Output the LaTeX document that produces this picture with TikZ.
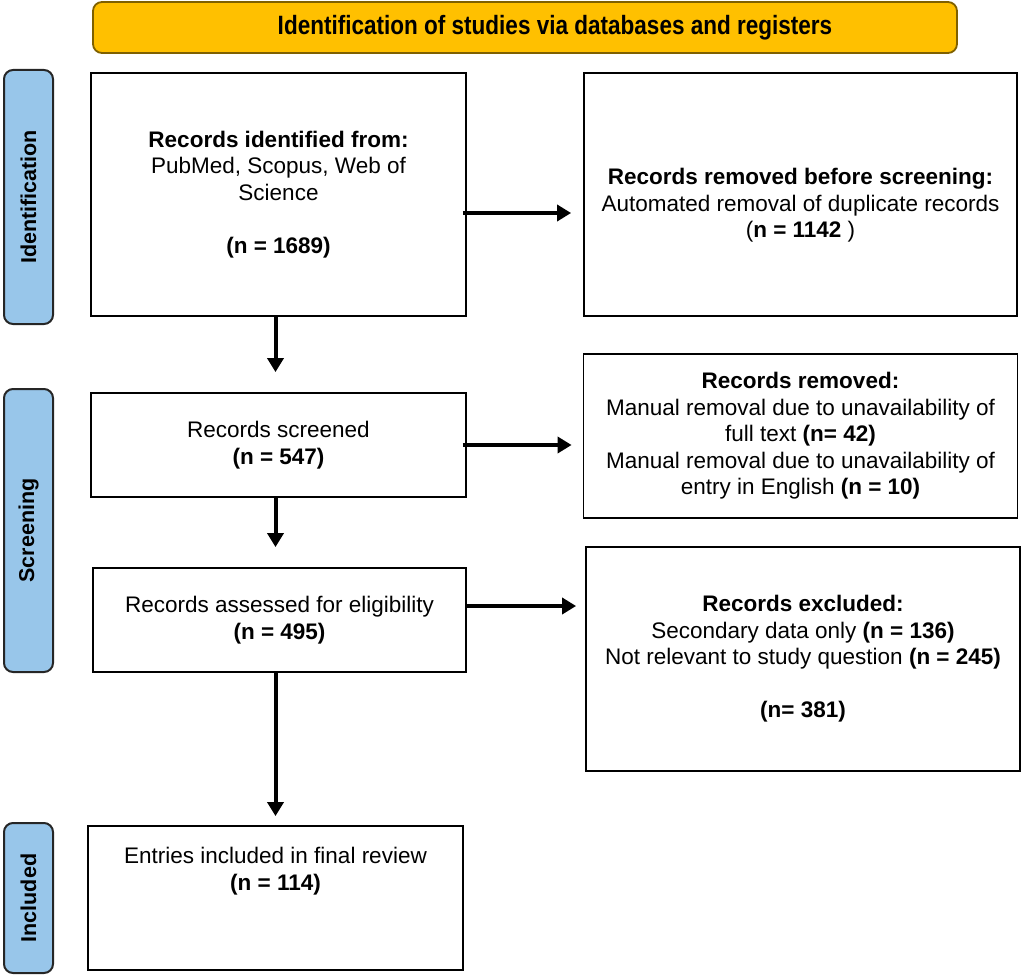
\documentclass[tikz,border=0pt]{standalone}
\usepackage{fontspec}
\setmainfont{Liberation Sans}
\newfontfamily\bannerfont[FakeStretch=0.85]{Liberation Sans}
\usetikzlibrary{arrows.meta}
\definecolor{bannergold}{RGB}{255,192,0}
\definecolor{bannerline}{RGB}{127,96,0}
\definecolor{phaseblue}{RGB}{152,198,234}

\begin{document}
\begin{tikzpicture}
        [%%%%%%%%%%%%%%%%%%%%%%%%%%%%%%
        x=1pt, y=-1pt,
        box/.style={rectangle, draw=black, line width=1.8pt, align=center,
          font=\fontsize{22.5}{26.5}\selectfont},
        phase/.style={rectangle, rounded corners=9pt, draw=black!85, line width=2pt,
          fill=phaseblue, minimum width=49pt, align=center,
          font=\fontsize{21.5}{25}\selectfont\bfseries},
        banner/.style={rectangle, rounded corners=9pt, draw=bannerline, line width=1.8pt,
          fill=bannergold, minimum width=864pt, minimum height=51pt},
        arr/.style={line width=4pt, -{Triangle[length=14pt,width=16pt]}},
        ]%%%%%%%%%%%%%%%%%%%%%%%%%%%%%%
        \useasboundingbox (0,0) rectangle (1024,976);
        % Title
        \node[banner] (title) at (525,27.5) {};
        \node[font=\bannerfont\bfseries\fontsize{26.5}{30}\selectfont] (titletxt) at ([xshift=30pt]title.center)
          {Identification of studies via databases and registers};
        % Phases
        \node[phase, minimum height=254pt] (ident) at (28.5,197) {};
        \node[rotate=90, font=\fontsize{21.5}{25}\selectfont\bfseries] at (ident) {Identification};
        \node[phase, minimum height=283pt] (screen) at (28.5,530.5) {};
        \node[rotate=90, font=\fontsize{21.5}{25}\selectfont\bfseries] at (screen) {Screening};
        \node[phase, minimum height=150pt] (incl) at (28.5,898) {};
        \node[rotate=90, font=\fontsize{21.5}{25}\selectfont\bfseries] at (incl) {Included};
        % Left column
        \node[box, minimum width=375pt, minimum height=243pt] (found) at (278.5,194.5)
          {\textbf{Records identified from:}\\ PubMed, Scopus, Web of\\ Science\\[26.5pt] \textbf{(n = 1689)}};
        \node[box, minimum width=375pt, minimum height=104pt] (screened) at (278.5,445)
          {Records screened\\ \textbf{(n = 547)}};
        \node[box, minimum width=373pt, minimum height=104pt] (assessed) at (279.5,620)
          {Records assessed for eligibility\\ \textbf{(n = 495)}};
        \node[box, minimum width=375pt, minimum height=144pt] (included) at (275.5,898) {};
        \node[align=center, font=\fontsize{22.5}{26.5}\selectfont] (includedtxt) at ([yshift=27pt]included.center)
          {Entries included in final review\\ \textbf{(n = 114)}};
        % Right column
        \node[box, minimum width=433pt, minimum height=243pt] (dupes) at (800.5,194.5) {};
        \node[align=center, font=\fontsize{22.5}{26.5}\selectfont] (dupestxt) at ([yshift=-11pt]dupes.center)
          {\textbf{Records removed before screening:}\\ Automated removal of duplicate records\\ (\textbf{n = 1142} )};
        \node[box, minimum width=434pt, minimum height=164pt] (removed) at (800.5,436)
          {\textbf{Records removed:}\\ Manual removal due to unavailability of\\ full text \textbf{(n= 42)}\\
           Manual removal due to unavailability of\\ entry in English \textbf{(n = 10)}};
        \node[box, minimum width=434pt, minimum height=224pt] (excluded) at (803,659)
          {\textbf{Records excluded:}\\ Secondary data only \textbf{(n = 136)}\\
           Not relevant to study question \textbf{(n = 245)}\\[26.5pt] \textbf{(n= 381)}};
        % Arrows down
        \draw[arr, shorten >=20pt] (found.south -| 275.5,0) -- (screened.north -| 275.5,0);
        \draw[arr, shorten >=20pt] (screened.south -| 275.5,0) -- (assessed.north -| 275.5,0);
        \draw[arr, shorten >=9pt] (assessed.south -| 275.5,0) -- (included.north -| 275.5,0);
        % Arrows across
        \draw[arr, shorten <=-4pt, shorten >=12pt] ([yshift=-18.5pt]found.east) -- ([yshift=-18.5pt]found.east -| dupes.west);
        \draw[arr, shorten <=-4pt, shorten >=11pt] (screened.east) -- (screened.east -| removed.west);
        \draw[arr, shorten >=9pt] ([yshift=14pt]assessed.east) -- ([yshift=14pt]assessed.east -| excluded.west);
      \end{tikzpicture}
\end{document}
